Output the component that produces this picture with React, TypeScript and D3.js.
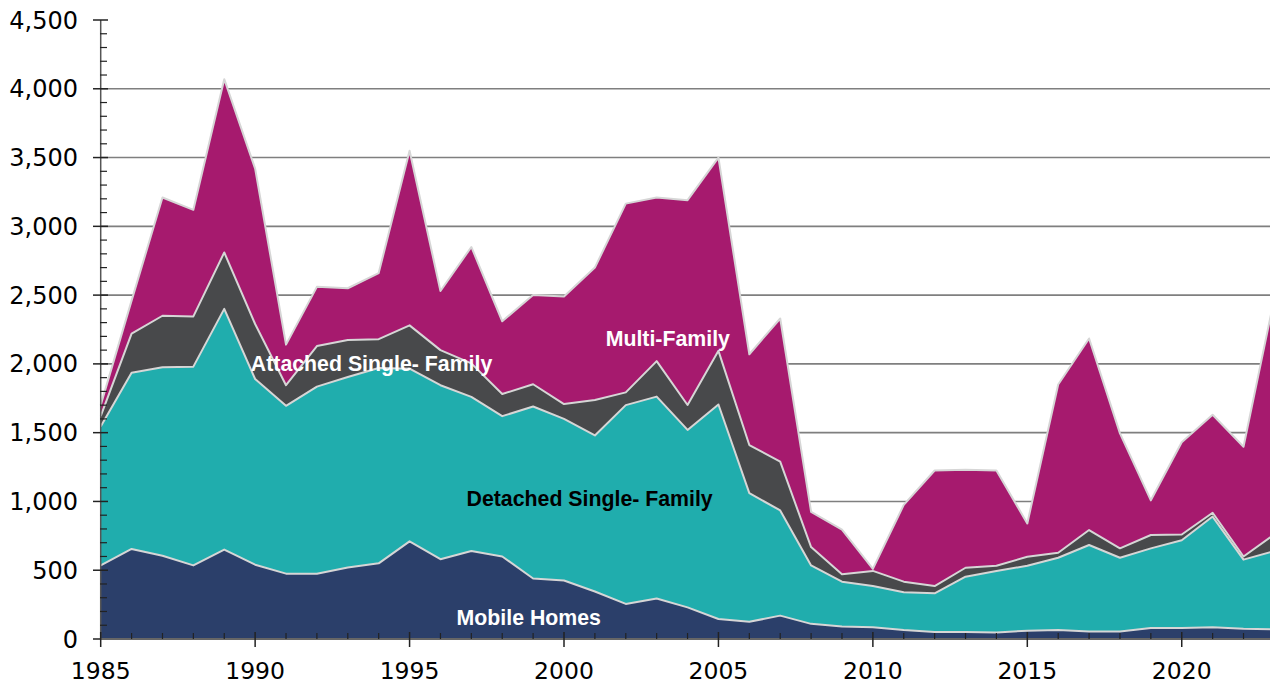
import React from "react";
import * as d3 from "d3";

const years = d3.range(1985, 2024);

const mobileHomes = [535, 655, 605, 535, 650, 540, 475, 475, 520, 550, 710, 580, 640, 600, 440, 425, 345, 255, 295, 230, 145, 125, 170, 110, 90, 85, 65, 50, 50, 48, 60, 65, 55, 55, 80, 80, 85, 75, 70];
const detachedSingleFamily = [1010, 1280, 1370, 1445, 1750, 1350, 1220, 1360, 1385, 1420, 1255, 1265, 1120, 1020, 1250, 1175, 1135, 1445, 1467, 1290, 1560, 935, 765, 425, 327, 300, 275, 282, 403, 446, 473, 526, 628, 536, 579, 638, 805, 502, 570];
const attachedSingleFamily = [75, 285, 375, 365, 410, 400, 150, 295, 269, 210, 315, 255, 244, 161, 162, 108, 257, 93, 258, 181, 390, 350, 354, 133, 53, 110, 77, 53, 65, 39, 65, 36, 109, 68, 97, 42, 28, 23, 120];
const multiFamily = [80, 240, 860, 775, 1260, 1130, 295, 430, 376, 480, 1270, 430, 846, 529, 648, 782, 963, 1372, 1190, 1489, 1405, 660, 1041, 257, 325, 15, 558, 840, 712, 692, 242, 1223, 1393, 836, 252, 670, 712, 798, 1720];

const seriesKeys = ["mobile", "detached", "attached", "multi"];
const seriesColors = ["#2b3f6a", "#20adad", "#48494b", "#a61a6e"];

const yMajorTicks = [0, 500, 1000, 1500, 2000, 2500, 3000, 3500, 4000, 4500];
const xMajorTicks = [1985, 1990, 1995, 2000, 2005, 2010, 2015, 2020];

// label anchor points in data space
const areaLabels = [
  { text: "Multi-Family", year: 2003.36, value: 2130, color: "#ffffff" },
  { text: "Attached Single- Family", year: 1993.77, value: 1950, color: "#ffffff" },
  { text: "Detached Single- Family", year: 2000.83, value: 967, color: "#000000" },
  { text: "Mobile Homes", year: 1998.86, value: 102, color: "#ffffff" },
];

export default function App() {
  const W = 1270;
  const H = 685;
  const x = d3.scaleLinear().domain([1985, 2023]).range([100.7, 1274.4]);
  const y = d3.scaleLinear().domain([0, 4500]).range([639, 20]);

  const table = years.map((yr, i) => ({
    year: yr,
    mobile: mobileHomes[i],
    detached: detachedSingleFamily[i],
    attached: attachedSingleFamily[i],
    multi: multiFamily[i],
  }));
  const stacked = d3.stack<any>().keys(seriesKeys)(table);

  const area = d3
    .area<any>()
    .x((d) => x(d.data.year))
    .y0((d) => y(d[0]))
    .y1((d) => y(d[1]));
  const topLine = d3
    .line<any>()
    .x((d) => x(d.data.year))
    .y((d) => y(d[1]));

  const minorY = d3.range(0, 4501, 100).filter((v) => v % 500 !== 0);
  const minorX = years.filter((v) => v % 5 !== 0);
  const fontAxis = "'DejaVu Sans', Verdana, sans-serif";
  const fontLabel = "'Liberation Sans', Arial, sans-serif";

  return (
    <svg width={W} height={H} style={{ position: "absolute", left: 0, top: 0 }}>
      <rect x={0} y={0} width={W} height={H} fill="#ffffff" />
      {yMajorTicks
        .filter((v) => v > 0 && v < 4500)
        .map((v) => (
          <line key={"g" + v} x1={x(1985)} x2={W} y1={y(v)} y2={y(v)} stroke="#7f7f7f" strokeWidth={1.6} />
        ))}
      {stacked.map((s, i) => (
        <path key={"a" + i} d={area(s) || ""} fill={seriesColors[i]} />
      ))}
      {stacked.map((s, i) => (
        <path key={"l" + i} d={topLine(s) || ""} fill="none" stroke="#d6d6d6" strokeWidth={2} strokeLinejoin="round" />
      ))}
      <line x1={x(1985)} x2={x(1985)} y1={y(4500)} y2={y(0)} stroke="#555" strokeWidth={1.5} />
      {yMajorTicks.map((v) => (
        <g key={"yt" + v}>
          <line x1={93} x2={108} y1={y(v)} y2={y(v)} stroke="#222" strokeWidth={1.5} />
          <text x={78} y={y(v) + 8.5} textAnchor="end" fontFamily={fontAxis} fontSize={24} fill="#000">
            {d3.format(",")(v)}
          </text>
        </g>
      ))}
      {minorY.map((v) => (
        <line key={"ym" + v} x1={100} x2={107} y1={y(v)} y2={y(v)} stroke="#222" strokeWidth={1.2} />
      ))}
      <line x1={x(1985)} x2={W} y1={y(0)} y2={y(0)} stroke="#666" strokeWidth={2} />
      {minorX.map((v) => (
        <line key={"xm" + v} x1={x(v)} x2={x(v)} y1={633} y2={639} stroke="#222" strokeWidth={1.2} />
      ))}
      {xMajorTicks.map((v) => (
        <g key={"xt" + v}>
          <line x1={x(v)} x2={x(v)} y1={632} y2={647} stroke="#222" strokeWidth={1.5} />
          <text x={x(v)} y={679} textAnchor="middle" fontFamily={fontAxis} fontSize={23.5} fill="#000">
            {v}
          </text>
        </g>
      ))}
      {areaLabels.map((l) => (
        <text
          key={l.text}
          x={x(l.year)}
          y={y(l.value)}
          textAnchor="middle"
          fontFamily={fontLabel}
          fontWeight="bold"
          fontSize={21.3}
          fill={l.color}
        >
          {l.text}
        </text>
      ))}
    </svg>
  );
}
